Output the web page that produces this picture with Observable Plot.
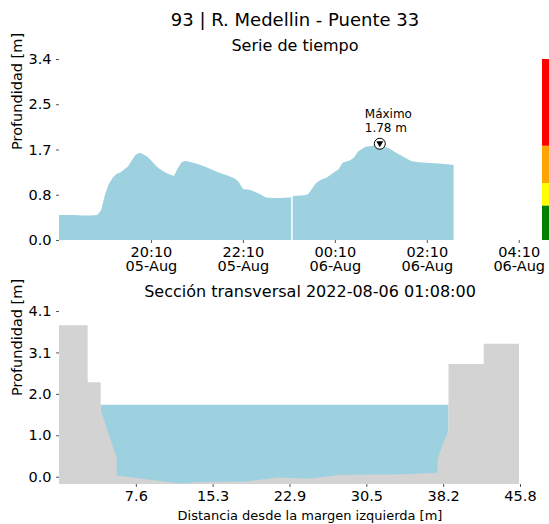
<!DOCTYPE html>
<html><head><meta charset="utf-8">
<script src="https://cdn.jsdelivr.net/npm/d3@7"></script>
<script src="https://cdn.jsdelivr.net/npm/@observablehq/plot@0.6"></script>
<style>
body{margin:0;background:#fff;}
#c{position:relative;width:549px;height:524px;overflow:hidden;font-family:"DejaVu Sans",sans-serif;color:#000;}
.t{position:absolute;text-align:center;line-height:1;white-space:nowrap;}
.p{position:absolute;}
</style></head><body>
<div id="c">
  <div class="t" id="title" style="left:95px;width:400px;top:11px;font-size:18px;"></div>
  <div class="t" id="sub1" style="left:95px;width:400px;top:38px;font-size:16px;"></div>
  <div class="p" id="top" style="left:0;top:0;width:549px;height:290px;"></div>
  <div class="p" id="bar" style="left:542px;top:0;width:7px;height:290px;"></div>
  <div class="t" id="sub2" style="left:60px;width:500px;top:284px;font-size:16px;"></div>
  <div class="p" id="bot" style="left:0;top:290px;width:549px;height:234px;"></div>
  <div class="t" id="xlab" style="left:110px;width:400px;top:509px;font-size:13px;"></div>
</div>
<script>
// ---------- texts ----------
const stationTitle = "93 | R. Medellin - Puente 33";
const seriesTitle = "Serie de tiempo";
const sectionTitle = "Sección transversal 2022-08-06 01:08:00";
const yLabel = "Profundidad [m]";
const xLabelSection = "Distancia desde la margen izquierda [m]";

// ---------- time series ----------
const seriesTimes = [
 "2022-08-05 18:10","2022-08-05 18:20","2022-08-05 18:30","2022-08-05 18:40","2022-08-05 18:50",
 "2022-08-05 19:00","2022-08-05 19:05","2022-08-05 19:10","2022-08-05 19:15","2022-08-05 19:20",
 "2022-08-05 19:25","2022-08-05 19:30","2022-08-05 19:40","2022-08-05 19:45","2022-08-05 19:50",
 "2022-08-05 19:55","2022-08-05 20:00","2022-08-05 20:05","2022-08-05 20:10","2022-08-05 20:15",
 "2022-08-05 20:20","2022-08-05 20:30","2022-08-05 20:40","2022-08-05 20:45","2022-08-05 20:50",
 "2022-08-05 20:55","2022-08-05 21:00","2022-08-05 21:10","2022-08-05 21:20","2022-08-05 21:30",
 "2022-08-05 21:40","2022-08-05 21:50","2022-08-05 22:00","2022-08-05 22:05","2022-08-05 22:10",
 "2022-08-05 22:20","2022-08-05 22:30","2022-08-05 22:35","2022-08-05 22:40","2022-08-05 22:50",
 "2022-08-05 23:00","2022-08-05 23:10","2022-08-05 23:13","2022-08-05 23:14","2022-08-05 23:15",
 "2022-08-05 23:20","2022-08-05 23:30","2022-08-05 23:35","2022-08-05 23:40","2022-08-05 23:45",
 "2022-08-05 23:50","2022-08-06 00:00","2022-08-06 00:10","2022-08-06 00:15","2022-08-06 00:20",
 "2022-08-06 00:30","2022-08-06 00:35","2022-08-06 00:40","2022-08-06 00:50","2022-08-06 01:00",
 "2022-08-06 01:08","2022-08-06 01:10","2022-08-06 01:20","2022-08-06 01:30","2022-08-06 01:40",
 "2022-08-06 01:50","2022-08-06 02:00","2022-08-06 02:10","2022-08-06 02:20","2022-08-06 02:30",
 "2022-08-06 02:40","2022-08-06 02:45"
];
const seriesDepth = [
 0.47,0.47,0.47,0.46,0.46,
 0.47,0.56,0.85,1.05,1.17,
 1.24,1.27,1.38,1.50,1.60,
 1.64,1.61,1.57,1.50,1.42,
 1.35,1.26,1.20,1.35,1.46,
 1.49,1.47,1.43,1.38,1.32,
 1.26,1.21,1.15,1.08,0.96,
 0.94,0.88,0.84,0.80,0.79,
 0.79,0.80,0.80,null,0.82,
 0.83,0.84,0.86,0.96,1.06,
 1.12,1.18,1.28,1.33,1.45,
 1.50,1.55,1.66,1.75,1.77,
 1.78,1.77,1.73,1.64,1.56,
 1.48,1.46,1.45,1.44,1.43,
 1.42,1.41
];
const timeDomain = ["2022-08-05 18:10","2022-08-06 04:26"];
const xTicksTop = ["2022-08-05 20:10","2022-08-05 22:10","2022-08-06 00:10","2022-08-06 02:10","2022-08-06 04:10"];
const xTickLabelsTop = ["20:10\n05-Aug","22:10\n05-Aug","00:10\n06-Aug","02:10\n06-Aug","04:10\n06-Aug"];
const yTicksTop = [0, 0.85, 1.7, 2.55, 3.4];
const yTickLabelsTop = ["0.0","0.8","1.7","2.5","3.4"];

// ---------- alert levels (colour bar) ----------
const levelLimits = [0, 0.65, 1.07, 1.77, 3.4];
const levelColors = ["#008000","#ffff00","#ffa500","#ff0000"];

// ---------- cross section ----------
const groundX = [0,0,2.85,2.85,4.14,4.14,5.73,5.73,12.0,14.0,18.6,21.8,24.9,27.9,34.5,37.6,37.6,38.7,38.7,42.2,42.2,45.7,45.7];
const groundY = [-0.18,3.75,3.75,2.34,2.34,1.65,0.46,0.03,-0.17,-0.13,-0.12,-0.02,-0.05,0.04,0.06,0.10,0.44,1.16,2.79,2.79,3.29,3.29,-0.18];
const waterEdges = [4.14, 38.7];
const sectionDomainY = [-0.18, 4.1];
const sectionDomainX = [0, 45.8];
const xTicksBot = [7.633, 15.267, 22.9, 30.533, 38.167, 45.8];
const xTickLabelsBot = ["7.6","15.3","22.9","30.5","38.2","45.8"];
const yTicksBot = [0, 1.025, 2.05, 3.075, 4.1];
const yTickLabelsBot = ["0.0","1.0","2.0","3.1","4.1"];

// ---------- build ----------
const waterColor = "#9ed1e0";
const groundColor = "#d3d3d3";
const parse = d3.utcParse("%Y-%m-%d %H:%M");
const series = seriesTimes.map((t, i) => ({t: parse(t), v: seriesDepth[i]}));
const maxPoint = d3.greatest(series.filter(d => d.v != null), d => d.v);
const topTickDates = xTicksTop.map(parse);
const topLabelMap = new Map(topTickDates.map((d, i) => [+d, xTickLabelsTop[i]]));
const mapLabel = (ticks, labels) => { const m = new Map(ticks.map((d, i) => [d, labels[i]])); return d => m.get(d); };

document.getElementById("title").textContent = stationTitle;
document.getElementById("sub1").textContent = seriesTitle;
document.getElementById("sub2").textContent = sectionTitle;
document.getElementById("xlab").textContent = xLabelSection;

const style = {fontFamily: "DejaVu Sans", fontSize: "14.5px", color: "#000", background: "transparent", overflow: "visible"};

const topPlot = Plot.plot({
  width: 549, height: 290, marginTop: 59, marginBottom: 50, marginLeft: 59, marginRight: 18,
  style,
  x: {type: "utc", domain: timeDomain.map(parse)},
  y: {domain: [0, 3.4]},
  marks: [
    Plot.areaY(series, {x: "t", y1: 0, y2: "v", fill: waterColor, curve: "linear"}),
    Plot.axisY({ticks: yTicksTop, tickFormat: mapLabel(yTicksTop, yTickLabelsTop), tickSize: 3, tickPadding: 5, label: null, stroke: "#555"}),
    Plot.axisX({ticks: topTickDates, tickFormat: d => topLabelMap.get(+d), tickSize: 3, tickPadding: 3, label: null, stroke: "#555", lineHeight: 1.0}),
    Plot.text([yLabel], {text: d => d, frameAnchor: "left", rotate: -90, dx: -42.5, fontSize: 14.5}),
    Plot.dot([maxPoint], {x: "t", y: "v", r: 5.5, fill: "white", stroke: "black", strokeWidth: 1, dy: -2}),
    Plot.dot([maxPoint], {x: "t", y: "v", symbol: "triangle", rotate: 180, r: 2.6, fill: "black", dy: -2.5}),
    Plot.text([maxPoint], {x: "t", y: "v", text: d => `Máximo\n${d.v.toFixed(2)} m`, textAnchor: "start", lineAnchor: "bottom", dx: -15, dy: -14, fontSize: 12, lineHeight: 1.15})
  ]
});
document.getElementById("top").appendChild(topPlot);

const bands = levelColors.map((c, i) => ({lo: levelLimits[i], hi: levelLimits[i + 1], c}));
const barPlot = Plot.plot({
  width: 7, height: 290, marginTop: 59, marginBottom: 50, marginLeft: 0, marginRight: 0,
  style: {background: "transparent"},
  y: {domain: [0, 3.4], axis: null},
  color: {type: "identity"},
  marks: [Plot.rect(bands, {y1: "lo", y2: "hi", fill: "c"})]
});
document.getElementById("bar").appendChild(barPlot);

const ground = groundX.map((x, i) => ({x, y: groundY[i]}));
const water = waterEdges.map(x => ({x, y: maxPoint.v}));
const botPlot = Plot.plot({
  width: 549, height: 234, marginTop: 21, marginBottom: 40, marginLeft: 59, marginRight: 29,
  style,
  x: {domain: sectionDomainX},
  y: {domain: sectionDomainY},
  marks: [
    Plot.areaY(water, {x: "x", y1: sectionDomainY[0], y2: "y", fill: waterColor}),
    Plot.areaY(ground, {x: "x", y1: sectionDomainY[0], y2: "y", fill: groundColor}),
    Plot.axisY({ticks: yTicksBot, tickFormat: mapLabel(yTicksBot, yTickLabelsBot), tickSize: 3, tickPadding: 5, label: null, stroke: "#555"}),
    Plot.axisX({ticks: xTicksBot, tickFormat: mapLabel(xTicksBot, xTickLabelsBot), tickSize: 3, tickPadding: 3, label: null, stroke: "#555"}),
    Plot.text([yLabel], {text: d => d, frameAnchor: "left", rotate: -90, dx: -42.5, dy: -2, fontSize: 14.5})
  ]
});
document.getElementById("bot").appendChild(botPlot);
</script>
</body></html>
